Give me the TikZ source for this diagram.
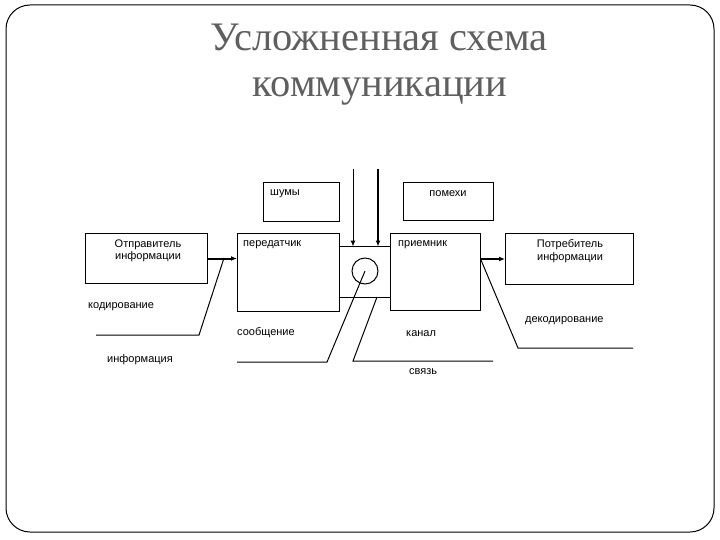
\documentclass[tikz,border=0pt]{standalone}
\usepackage{fontspec}
\setmainfont{Liberation Sans}
\newfontfamily\titlefont{Liberation Serif}
\usetikzlibrary{arrows,arrows.meta,calc,positioning}
\definecolor{titlegray}{RGB}{95,95,95}

\begin{document}
\begin{tikzpicture}[x=1pt,y=-1pt]
    \tikzstyle{every node}=[font=\fontsize{11}{12.5}\selectfont, inner sep=0pt]
    \tikzstyle{box}=[draw, line width=1pt, anchor=north west, inner sep=0pt]
    \tikzstyle{head}=[font=\titlefont\fontsize{40.5}{47}\selectfont, text=titlegray, anchor=base]
    \tikzstyle{tip}=[-{Latex[length=6pt,width=5pt]}]
    \useasboundingbox (0,0) rectangle (720,540);

      % frame
      \draw[line width=1pt, rounded corners=24pt] (6,5) rectangle (714,532);

      % title
      \node[head] (title1) at (379,51) {Усложненная схема};
      \node[head] (title2) at (380,97) {коммуникации};

      % boxes
      \node[box, minimum width=76pt, minimum height=39pt] (noise) at (263,182) {};
      \node[box, minimum width=90pt, minimum height=38pt] (interf) at (403,182) {};
      \node[box, minimum width=122pt, minimum height=50pt] (sender) at (85,233) {};
      \node[box, minimum width=102pt, minimum height=78pt] (trans) at (237,233) {};
      \node[box, minimum width=90pt, minimum height=77pt] (recv) at (390,233) {};
      \node[box, minimum width=128pt, minimum height=51pt] (cons) at (505,233) {};

      % box texts
      \node[anchor=west] (noiseT) at (270,194) {шумы};
      \node (interfT) at (448,194) {помехи};
      \node[align=center] (senderT) at (148,251) {Отправитель\\информации};
      \node[anchor=west] (transT) at (243,245) {передатчик};
      \node[anchor=west] (recvT) at (398,245) {приемник};
      \node[align=center] (consT) at (570,251) {Потребитель\\информации};

      % channel
      \coordinate (chTL) at (339,246.5);
      \coordinate (chTR) at (390,246.5);
      \coordinate (chBL) at (339,297);
      \coordinate (chBR) at (390,297);
      \draw[line width=1pt] (chTL) -- (chTR);
      \draw[line width=1pt] (chBL) -- (chBR);
      \node[draw, circle, line width=1pt, minimum size=26pt] (sig) at (365,271) {};

      % noise arrows
      \coordinate (n1) at (353,169);
      \coordinate (n2) at (378,169);
      \draw[tip, line width=1pt] (n1) -- (n1 |- chTL);
      \draw[tip, line width=2pt] (n2) -- (n2 |- chTL);

      % main arrows
      \draw[tip, line width=2pt] (sender.east) -- (sender.east -| trans.west);
      \draw[tip, line width=2pt] (cons.west -| recv.east) -- (cons.west);

      % leaders
      \coordinate (codeA) at (224,258);
      \coordinate (codeB) at (199,335);
      \coordinate (codeC) at (96,335);
      \draw[line width=1pt] (codeA) -- (codeB) -- (codeC);
      \node[anchor=west] (codeT) at (88,307) {кодирование};

      \coordinate (msgB) at (327,362);
      \coordinate (msgC) at (237,362);
      \draw[line width=1pt] (sig.center) -- (msgB) -- (msgC);
      \node[anchor=west] (msgT) at (237,333) {сообщение};
      \node[anchor=west] (infoT) at (107,360) {информация};

      \coordinate (chanA) at (377,297);
      \coordinate (chanB) at (353,361);
      \coordinate (chanC) at (493,361);
      \draw[line width=1pt] (chanA) -- (chanB) -- (chanC);
      \node[anchor=west] (chanT) at (406,334) {канал};
      \node[anchor=west] (linkT) at (409,372) {связь};

      \coordinate (decA) at (481,260);
      \coordinate (decB) at (518,348);
      \coordinate (decC) at (633,348);
      \draw[line width=1pt] (decA) -- (decB) -- (decC);
      \node[anchor=west] (decT) at (525,321) {декодирование};

\end{tikzpicture}
\end{document}
